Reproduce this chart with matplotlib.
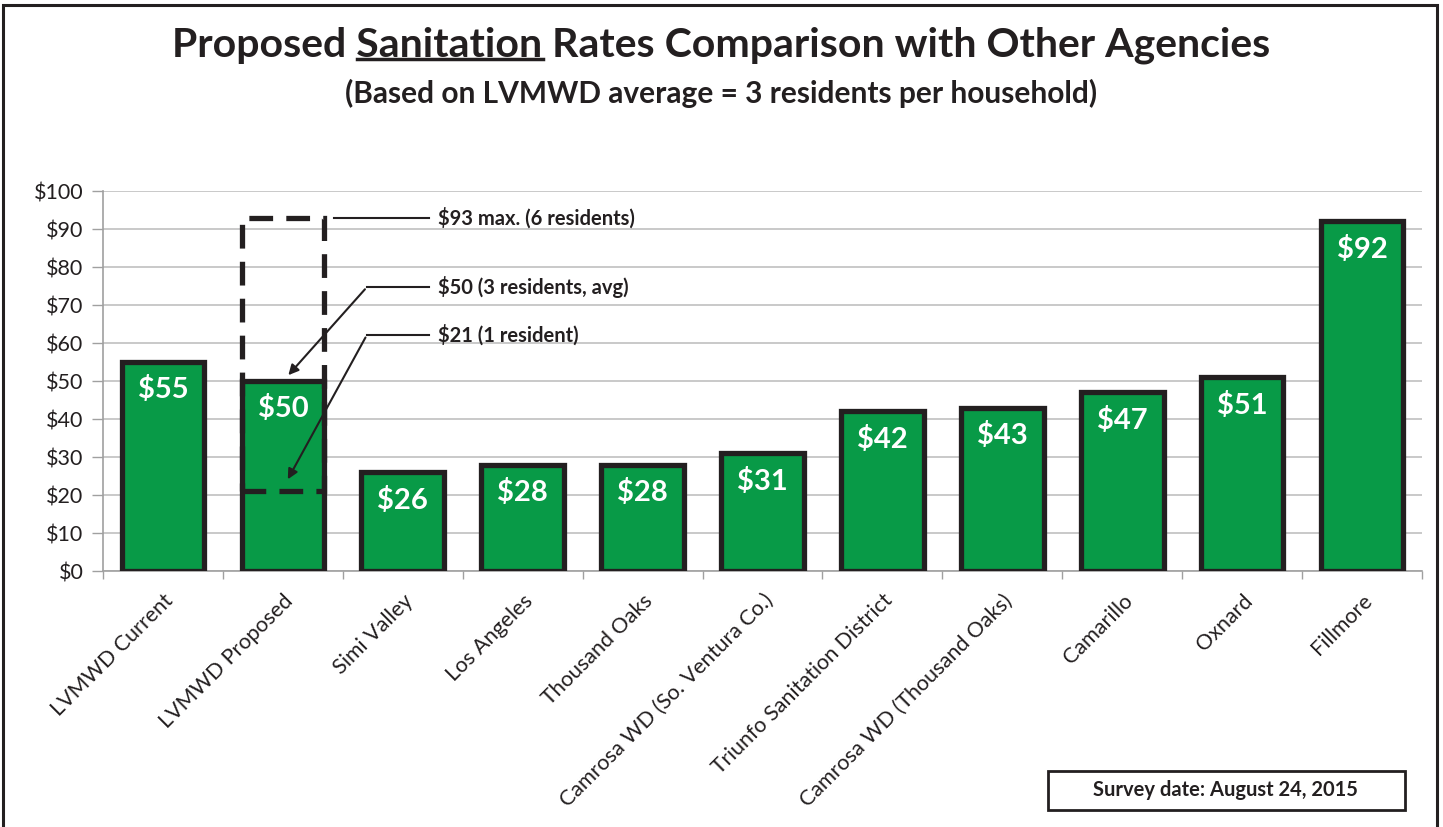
import matplotlib.pyplot as plt
from matplotlib.patches import Rectangle
from matplotlib.transforms import ScaledTranslation

plt.rcParams['font.family'] = ['Lato', 'DejaVu Sans']

agencies = ['LVMWD Current', 'LVMWD Proposed', 'Simi Valley', 'Los Angeles',
            'Thousand Oaks', 'Camrosa WD (So. Ventura Co.)',
            'Triunfo Sanitation District', 'Camrosa WD (Thousand Oaks)',
            'Camarillo', 'Oxnard', 'Fillmore']
rates = [55, 50, 26, 28, 28, 31, 42, 43, 47, 51, 92]
yticks = [0, 10, 20, 30, 40, 50, 60, 70, 80, 90, 100]

max_rate = 93   # 6 residents
min_rate = 21   # 1 resident
avg_rate = 50   # 3 residents

green = '#089a47'
edge = '#231f20'

fig = plt.figure(figsize=(14.43, 8.27), dpi=100)
ax = fig.add_axes([0.0714, 0.3095, 0.914, 0.4595])

x = list(range(len(agencies)))
bw = 0.69
ax.bar(x, rates, width=bw, color=green, edgecolor=edge, linewidth=3.8, zorder=3)

for xi, v in zip(x, rates):
    ax.text(xi, v - 3.8, f'${v}', ha='center', va='top', color='white',
            fontsize=21, fontweight='bold', zorder=5)

# dashed range box on LVMWD Proposed
ax.add_patch(Rectangle((1 - bw / 2, min_rate), bw, max_rate - min_rate, fill=False,
                       edgecolor=edge, linewidth=3.8, linestyle=(0, (4.5, 2.5)), zorder=4))

# callouts
note_kw = dict(va='center', fontsize=14.5, fontweight='bold', color=edge)
ax.plot([1.43, 2.22], [max_rate, max_rate], color=edge, lw=1.5, zorder=4)
ax.text(2.29, max_rate, '$93 max. (6 residents)', **note_kw)
ax.plot([1.70, 2.22], [74.7, 74.7], color=edge, lw=1.5, zorder=4)
ax.annotate('', xy=(1.03, avg_rate + 1), xytext=(1.70, 74.7),
            arrowprops=dict(arrowstyle='-|>', color=edge, lw=1.5, mutation_scale=15), zorder=6)
ax.text(2.29, 74.7, '$50 (3 residents, avg)', **note_kw)
ax.plot([1.70, 2.22], [62.1, 62.1], color=edge, lw=1.5, zorder=4)
ax.annotate('', xy=(1.03, min_rate + 2.5), xytext=(1.70, 62.1),
            arrowprops=dict(arrowstyle='-|>', color=edge, lw=1.5, mutation_scale=15), zorder=6)
ax.text(2.29, 62.1, '$21 (1 resident)', **note_kw)

ax.set_xlim(-0.5, len(agencies) - 0.5)
ax.set_ylim(0, 100)
ax.set_yticks(yticks)
ax.set_yticklabels([f'${t}' for t in yticks], fontsize=15.5, color=edge)
ax.set_xticks(x)
ax.set_xticklabels(agencies, rotation=45, ha='right', rotation_mode='anchor',
                   fontsize=15.5, color=edge)
shift = ScaledTranslation(-12 / 100, 0, fig.dpi_scale_trans)
for lab in ax.get_xticklabels():
    lab.set_transform(lab.get_transform() + shift)
ax.set_xticks([i + 0.5 for i in range(-1, len(agencies))], minor=True)
ax.tick_params(axis='x', which='major', length=0, pad=14)
ax.tick_params(axis='x', which='minor', length=6, color='#a0a0a0', width=1)
ax.tick_params(axis='y', length=8, color='#a0a0a0', width=1, pad=6)
ax.grid(axis='y', color='#c0c0c0', lw=1.2, zorder=0)
for s in ['top', 'right']:
    ax.spines[s].set_visible(False)
for s in ['left', 'bottom']:
    ax.spines[s].set_color('#a0a0a0')
    ax.spines[s].set_linewidth(1.2)

# outer border
fig.add_artist(Rectangle((0.002, -0.02), 0.994, 1.014, transform=fig.transFigure,
                         fill=False, edgecolor=edge, lw=2.2))

# title with underlined word
title_kw = dict(fontsize=29.5, fontweight='bold', color=edge, va='center')
full = 'Proposed Sanitation Rates Comparison with Other Agencies'
t = fig.text(0.5, 0.945, full, ha='center', **title_kw)
fig.canvas.draw()
r = fig.canvas.get_renderer()
bb = t.get_window_extent(r)
p1 = fig.text(0, 0, 'Proposed ', **title_kw)
p2 = fig.text(0, 0, 'Proposed Sanitation', **title_kw)
w1 = p1.get_window_extent(r).width
w2 = p2.get_window_extent(r).width
p1.remove()
p2.remove()
W, H = fig.bbox.width, fig.bbox.height
uy = (bb.y0 + 5) / H
fig.add_artist(plt.Line2D([(bb.x0 + w1) / W, (bb.x0 + w2) / W], [uy, uy],
                          transform=fig.transFigure, color=edge, lw=2.5))

fig.text(0.5, 0.887, '(Based on LVMWD average = 3 residents per household)',
         ha='center', va='center', fontsize=21.5, fontweight='bold', color=edge)

# survey date box
fig.text(0.8495, 0.0445, 'Survey date: August 24, 2015', ha='center', va='center',
         fontsize=14.5, fontweight='bold', color=edge)
fig.add_artist(Rectangle((0.7263, 0.0206), 0.2474, 0.0472, transform=fig.transFigure,
                         fill=False, edgecolor=edge, lw=2))

fig.savefig('out.png', dpi=100)
